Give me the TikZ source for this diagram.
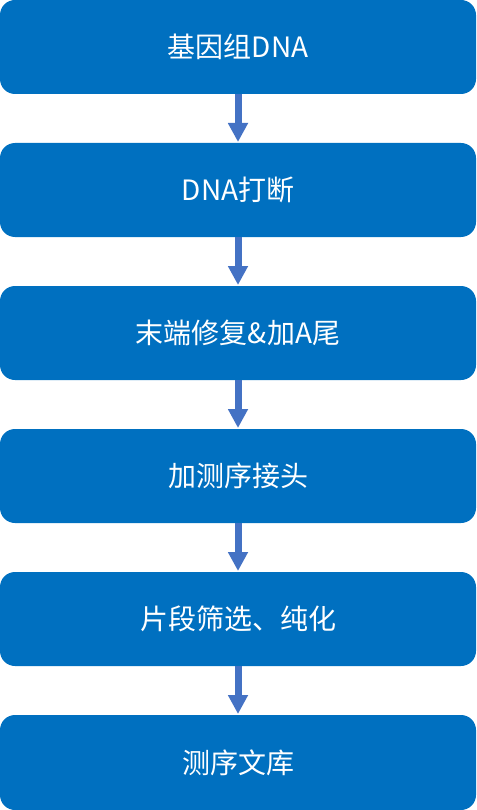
\documentclass[tikz,border=0pt]{standalone}
\usepackage{fontspec}
\setmainfont{Noto Sans CJK SC}
\usepackage{xcolor}
\usepackage{tikz}
\usetikzlibrary{arrows.meta, positioning}
\definecolor{boxblue}{HTML}{0070C0}
\definecolor{arrowblue}{HTML}{4472C4}

\begin{document}
\begin{tikzpicture}[
            x=1pt, y=-1pt,
            stepbox/.style={fill=boxblue, text=white, rounded corners=15pt,
                minimum width=476pt, minimum height=94pt, inner sep=0pt, outer sep=0pt,
                font=\fontsize{28pt}{33pt}\selectfont},
            flow/.style={draw=arrowblue, line width=7pt,
                -{Triangle[length=19pt, width=19pt]}},
        ]
        \useasboundingbox (0,0) rectangle (476,810);
        \node[stepbox] (s0) at (238,47) {基因组DNA};
        \node[stepbox] (s1) at (238,190) {DNA打断};
        \node[stepbox] (s2) at (238,333) {末端修复\&加A尾};
        \node[stepbox] (s3) at (238,476) {加测序接头};
        \node[stepbox] (s4) at (238,619) {片段筛选、纯化};
        \node[stepbox] (s5) at (238,762.5) [minimum height=95pt] {测序文库};
        \foreach \a/\b in {s0/s1, s1/s2, s2/s3, s3/s4, s4/s5}
            \draw[flow] (\a.south) -- ([yshift=1pt]\b.north);
        \end{tikzpicture}
\end{document}
